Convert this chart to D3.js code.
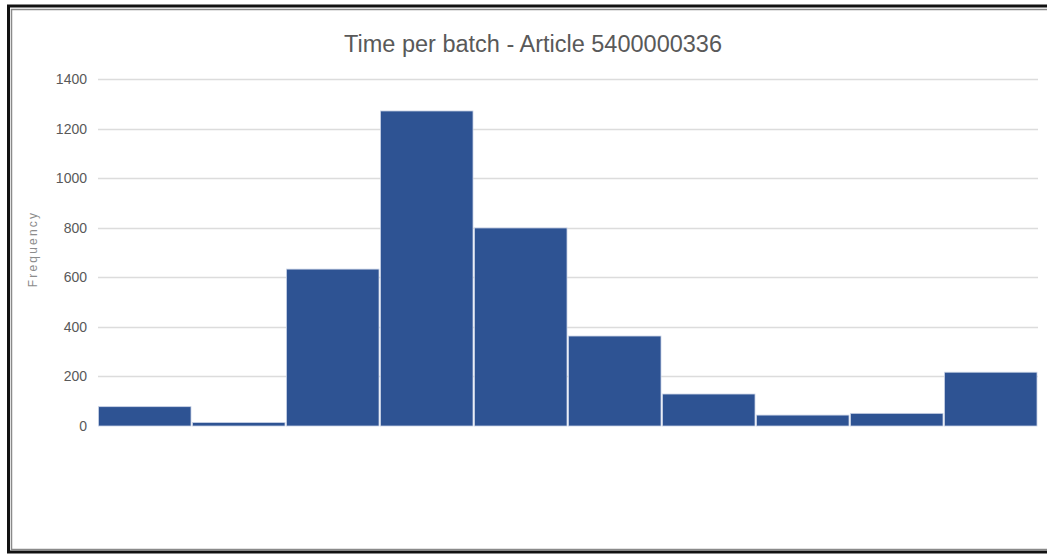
<!DOCTYPE html>
<html>
<head>
<meta charset="utf-8">
<script src="https://cdn.jsdelivr.net/npm/d3@7"></script>
<style>
  html, body { margin: 0; padding: 0; background: #fff; }
  svg { display: block; }
</style>
</head>
<body>
<div id="chart"></div>
<script>
// Histogram bins (10 equal-width intervals) and their frequencies
const bins = ["b1", "b2", "b3", "b4", "b5", "b6", "b7", "b8", "b9", "b10"];
const frequency = [78, 14, 633, 1271, 799, 363, 129, 44, 51, 217];
const yTicks = [0, 200, 400, 600, 800, 1000, 1200, 1400];
const titleText = "Time per batch - Article 5400000336";
const yTitle = "Frequency";

const W = 1047, H = 556;
const plot = { left: 98, right: 1038, top: 79, bottom: 426 };

const svg = d3.select("#chart").append("svg")
  .attr("width", W).attr("height", H);

svg.append("rect").attr("width", W).attr("height", H).attr("fill", "#fff");

// Frame around the chart (left, top and bottom edges)
svg.append("path")
  .attr("d", `M${W},6 H8.5 V552 H${W}`)
  .attr("fill", "none").attr("stroke", "#111").attr("stroke-width", 3);
svg.append("path")
  .attr("d", `M${W},9.5 H11.5 V549.5 H${W}`)
  .attr("fill", "none").attr("stroke", "#8a8a8a").attr("stroke-width", 1.5);

const x = d3.scaleBand().domain(bins)
  .range([plot.left, plot.right]).paddingInner(0).paddingOuter(0);
const y = d3.scaleLinear().domain([0, 1400]).range([plot.bottom, plot.top]);

// Horizontal gridlines
svg.append("g")
  .selectAll("line").data(yTicks.filter(d => d > 0)).join("line")
  .attr("x1", plot.left).attr("x2", plot.right)
  .attr("y1", d => Math.round(y(d)) + 0.5).attr("y2", d => Math.round(y(d)) + 0.5)
  .attr("stroke", "#dcdcdc").attr("stroke-width", 1.5);

// Y axis labels
const yAxis = d3.axisLeft(y).tickValues(yTicks).tickFormat(d3.format("d"))
  .tickSize(0).tickPadding(0);
const yg = svg.append("g").attr("transform", `translate(87,0)`).call(yAxis);
yg.select(".domain").remove();
yg.selectAll("text")
  .attr("fill", "#595959")
  .style("font-family", "'Liberation Sans', sans-serif")
  .style("font-size", "14px");

// Bars
svg.append("g")
  .selectAll("rect").data(frequency).join("rect")
  .attr("x", (d, i) => x(bins[i]) + 0.5)
  .attr("width", x.bandwidth() - 1.5)
  .attr("y", d => y(d))
  .attr("height", d => y(0) - y(d))
  .attr("fill", "#2e5393")
  .attr("stroke", "#c9d3e6").attr("stroke-width", 0.8);

// Title
svg.append("text")
  .attr("x", 533).attr("y", 52)
  .attr("text-anchor", "middle")
  .attr("fill", "#595959")
  .style("font-family", "'Liberation Sans', sans-serif")
  .style("font-size", "23.5px")
  .text(titleText);

// Y axis title
svg.append("text")
  .attr("transform", "translate(37,249) rotate(-90)")
  .attr("text-anchor", "middle")
  .attr("fill", "#8c8c8c")
  .style("font-family", "'Liberation Sans', sans-serif")
  .style("font-size", "12px")
  .style("letter-spacing", "2.2px")
  .text(yTitle);
</script>
</body>
</html>
